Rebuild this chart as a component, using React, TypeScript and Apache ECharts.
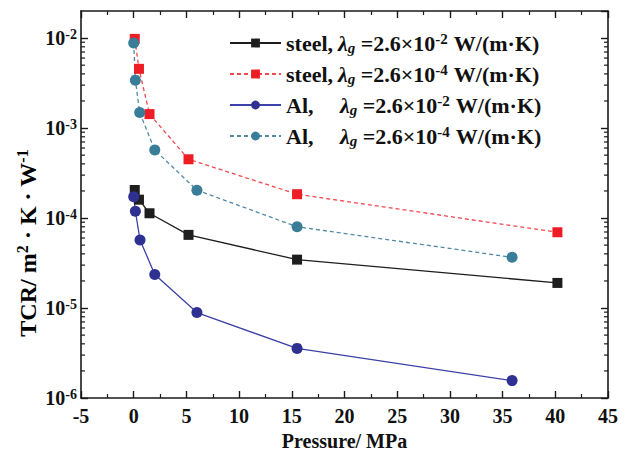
import React, { useEffect, useRef } from "react";
import * as echarts from "echarts";

const FONT = "Liberation Serif";

// Pressure (MPa) and TCR (m^2·K/W)
const steelHighX = [0.1, 0.5, 1.5, 5.2, 15.5, 40.2];
const steelHighY = [2.05e-4, 1.6e-4, 1.13e-4, 6.5e-5, 3.45e-5, 1.9e-5];
const steelLowX = [0.1, 0.5, 1.5, 5.2, 15.5, 40.2];
const steelLowY = [9.8e-3, 4.55e-3, 1.43e-3, 4.5e-4, 1.84e-4, 6.95e-5];
const alHighX = [0.0, 0.16, 0.6, 2.0, 6.0, 15.5, 35.9];
const alHighY = [1.72e-4, 1.19e-4, 5.7e-5, 2.36e-5, 8.9e-6, 3.56e-6, 1.56e-6];
const alLowX = [0.0, 0.16, 0.57, 2.0, 6.0, 15.5, 35.9];
const alLowY = [8.8e-3, 3.41e-3, 1.49e-3, 5.7e-4, 2.04e-4, 8.0e-5, 3.66e-5];

const X_MIN = -5;
const X_MAX = 45;
const X_INTERVAL = 5;
const Y_MIN = 1e-6;
const Y_MAX = 2e-2;

const DECADES = [1e-6, 1e-5, 1e-4, 1e-3, 1e-2];
const MINOR_MULTS = [2, 3, 4, 5, 6, 7, 8, 9];

const LEGEND_NAMES = ["steel1", "steel2", "al1", "al2"];
const LEGEND_TEXT: Record<string, string> = {
  steel1: "{st|steel, }{lam|λ}{sub|g}{b| =2.6×10}{sup|-2}{u|W/(m·K)}",
  steel2: "{st|steel, }{lam|λ}{sub|g}{b| =2.6×10}{sup|-4}{u|W/(m·K)}",
  al1: "{al|Al,}{lam|λ}{sub|g}{b| =2.6×10}{sup|-2}{u|W/(m·K)}",
  al2: "{al|Al,}{lam|λ}{sub|g}{b| =2.6×10}{sup|-4}{u|W/(m·K)}",
};

const zip = (xs: number[], ys: number[]) => xs.map((x, i) => [x, ys[i]]);

export default function App() {
  const ref = useRef<HTMLDivElement>(null);
  useEffect(() => {
    if (!ref.current) return;
    const chart = echarts.init(ref.current, null, { renderer: "svg" });
    const minorTicks: number[][] = [];
    DECADES.forEach((d) => MINOR_MULTS.forEach((m) => {
      const v = d * m;
      if (v < Y_MAX) minorTicks.push([X_MIN, v]);
    }));
    const axisLineStyle = { color: "#1a1a1a", width: 1.6 };
    const txt = { fontFamily: FONT, fontWeight: "bold" as const, color: "#111" };
    const option: any = {
      animation: false,
      backgroundColor: "#fff",
      textStyle: { fontFamily: FONT },
      grid: { left: 81, right: 21, top: 11, bottom: 55, containLabel: false },
      legend: {
        show: true,
        orient: "vertical",
        left: 229,
        top: 31,
        padding: 0,
        itemGap: 7,
        itemWidth: 51,
        itemHeight: 11,
        selectedMode: false,
        data: LEGEND_NAMES,
        formatter: (name: string) => LEGEND_TEXT[name],
        textStyle: {
          ...txt,
          fontSize: 22,
          rich: {
            b: { ...txt, fontSize: 22, lineHeight: 24 },
            u: { ...txt, fontSize: 22, lineHeight: 24, padding: [0, 0, 0, 6] },
            st: { ...txt, fontSize: 22, lineHeight: 24, width: 52 },
            al: { ...txt, fontSize: 22, lineHeight: 24, width: 54 },
            lam: { ...txt, fontSize: 22, fontStyle: "italic", lineHeight: 24 },
            sub: { ...txt, fontSize: 15, fontStyle: "italic", lineHeight: 15, verticalAlign: "bottom" },
            sup: { ...txt, fontSize: 15, lineHeight: 16, verticalAlign: "top" },
          },
        },
      },
      xAxis: [
        {
          type: "value",
          min: X_MIN,
          max: X_MAX,
          interval: X_INTERVAL,
          position: "bottom",
          name: "Pressure/ MPa",
          nameLocation: "middle",
          nameGap: 33,
          nameTextStyle: { ...txt, fontSize: 20 },
          axisLine: { show: true, onZero: false, lineStyle: axisLineStyle },
          axisTick: { show: true, inside: true, length: 7, lineStyle: { color: "#1a1a1a", width: 1.4 } },
          minorTick: { show: true, splitNumber: 2, length: 4, lineStyle: { color: "#1a1a1a", width: 1.2 } },
          axisLabel: { ...txt, fontSize: 20, margin: 8 },
          splitLine: { show: false },
        },
        {
          type: "value",
          min: X_MIN,
          max: X_MAX,
          interval: X_INTERVAL,
          position: "top",
          axisLine: { show: true, onZero: false, lineStyle: axisLineStyle },
          axisTick: { show: true, inside: true, length: 7, lineStyle: { color: "#1a1a1a", width: 1.4 } },
          minorTick: { show: true, splitNumber: 2, length: 4, lineStyle: { color: "#1a1a1a", width: 1.2 } },
          axisLabel: { show: false },
          splitLine: { show: false },
        },
      ],
      yAxis: [
        {
          type: "log",
          logBase: 10,
          min: Y_MIN,
          max: Y_MAX,
          position: "left",
          axisLine: { show: true, onZero: false, lineStyle: axisLineStyle },
          axisTick: { show: true, inside: true, length: 7, lineStyle: { color: "#1a1a1a", width: 1.4 } },
          axisLabel: {
            showMaxLabel: false,
            margin: 4,
            fontFamily: FONT,
            formatter: (v: number) => `{b|10}{sup|${Math.round(Math.log10(v))}}`,
            rich: {
              b: { ...txt, fontSize: 20, lineHeight: 22 },
              sup: { ...txt, fontSize: 14, lineHeight: 13, verticalAlign: "top" },
            },
          },
          splitLine: { show: false },
        },
        {
          type: "log",
          logBase: 10,
          min: Y_MIN,
          max: Y_MAX,
          position: "right",
          axisLine: { show: true, onZero: false, lineStyle: axisLineStyle },
          axisTick: { show: true, inside: true, length: 7, lineStyle: { color: "#1a1a1a", width: 1.4 } },
          axisLabel: { show: false },
          splitLine: { show: false },
        },
      ],
      graphic: [
        {
          type: "text",
          x: 28,
          y: 243,
          rotation: Math.PI / 2,
          style: {
            text: "{b|TCR/ m}{sup|2}{b| · K · W}{sup|-1}",
            align: "center",
            verticalAlign: "middle",
            fontFamily: FONT,
            rich: {
              b: { ...txt, fontSize: 24, lineHeight: 28 },
              sup: { ...txt, fontSize: 16, lineHeight: 16, verticalAlign: "top" },
            },
          },
        },
      ],
      series: [
        {
          type: "custom",
          name: "minor",
          silent: true,
          clip: false,
          data: minorTicks,
          renderItem: (params: any, api: any) => {
            const v = api.value(1);
            const l = api.coord([X_MIN, v]);
            const r = api.coord([X_MAX, v]);
            const st = { stroke: "#1a1a1a", lineWidth: 1.2 };
            return {
              type: "group",
              children: [
                { type: "line", shape: { x1: l[0], y1: l[1], x2: l[0] + 4, y2: l[1] }, style: st },
                { type: "line", shape: { x1: r[0], y1: r[1], x2: r[0] - 4, y2: r[1] }, style: st },
              ],
            };
          },
          z: 1,
        },
        {
          name: "steel1",
          type: "line",
          data: zip(steelHighX, steelHighY),
          symbol: "rect",
          symbolSize: 10,
          itemStyle: { color: "#1e1e1e" },
          lineStyle: { color: "#1e1e1e", width: 1.3, type: "solid" },
          z: 3,
        },
        {
          name: "steel2",
          type: "line",
          data: zip(steelLowX, steelLowY),
          symbol: "rect",
          symbolSize: 10,
          itemStyle: { color: "#ee1c25" },
          lineStyle: { color: "#f0484e", width: 1.3, type: [4, 3] },
          z: 3,
        },
        {
          name: "al1",
          type: "line",
          data: zip(alHighX, alHighY),
          symbol: "circle",
          symbolSize: 11,
          itemStyle: { color: "#2e3192" },
          lineStyle: { color: "#3b41a6", width: 1.3, type: "solid" },
          z: 3,
        },
        {
          name: "al2",
          type: "line",
          data: zip(alLowX, alLowY),
          symbol: "circle",
          symbolSize: 11,
          itemStyle: { color: "#3a7d98" },
          lineStyle: { color: "#4f8aa3", width: 1.3, type: [4, 3] },
          z: 3,
        },
      ],
    };
    chart.setOption(option);
    return () => chart.dispose();
  }, []);
  return (
    <div
      ref={ref}
      style={{ position: "fixed", left: 0, top: 0, width: 629, height: 456, background: "#fff" }}
    />
  );
}
